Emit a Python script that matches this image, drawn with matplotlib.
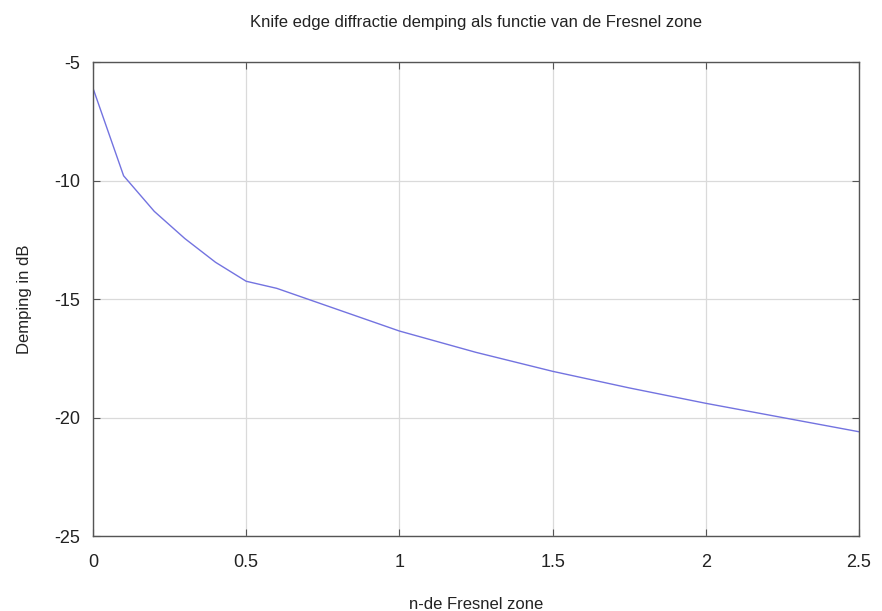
import numpy as np
import matplotlib
matplotlib.use('Agg')
from matplotlib import pyplot as plt

# n-de Fresnel zone vs demping (dB)
fresnel_zone = [0, 0.1, 0.2, 0.3, 0.4, 0.5, 0.6, 0.7, 0.8, 0.9, 1.0,
                1.25, 1.5, 1.75, 2.0, 2.25, 2.5]
demping_db = [-6.1, -9.8, -11.3, -12.45, -13.45, -14.25, -14.55, -15.0, -15.45, -15.9, -16.35,
              -17.25, -18.05, -18.75, -19.4, -20.0, -20.6]

x_ticks = [0, 0.5, 1, 1.5, 2, 2.5]
x_ticklabels = ['0', '0.5', '1', '1.5', '2', '2.5']
y_ticks = [-25, -20, -15, -10, -5]

plt.rcParams['font.family'] = ['Liberation Sans', 'DejaVu Sans']
plt.rcParams['axes.unicode_minus'] = False

fig = plt.figure(figsize=(8.82, 6.11), dpi=100)
ax = fig.add_axes([0.1054, 0.1227, 0.8685, 0.7758])

ax.plot(fresnel_zone, demping_db, color=(0.45, 0.45, 0.88), linewidth=1.0)

ax.set_xlim(0, 2.5)
ax.set_ylim(-25, -5)
ax.set_xticks(x_ticks)
ax.set_xticklabels(x_ticklabels)
ax.set_yticks(y_ticks)
ax.grid(True, color='#dadada', linewidth=0.9)
ax.set_axisbelow(True)

for s in ax.spines.values():
    s.set_color('#555555')
    s.set_linewidth(1.0)
ax.tick_params(direction='in', top=True, right=True, length=5, color='#555555',
               labelsize=13, labelcolor='#222222')
ax.tick_params(axis='x', pad=13)
ax.tick_params(axis='y', pad=9)

ax.set_xlabel('n-de Fresnel zone', fontsize=12, color='#222222', labelpad=19)
ax.set_ylabel('Demping in dB', fontsize=12, color='#222222', labelpad=16)
ax.set_title('Knife edge diffractie demping als functie van de Fresnel zone',
             fontsize=12, color='#222222', pad=25)

fig.savefig('out.png', dpi=100)
